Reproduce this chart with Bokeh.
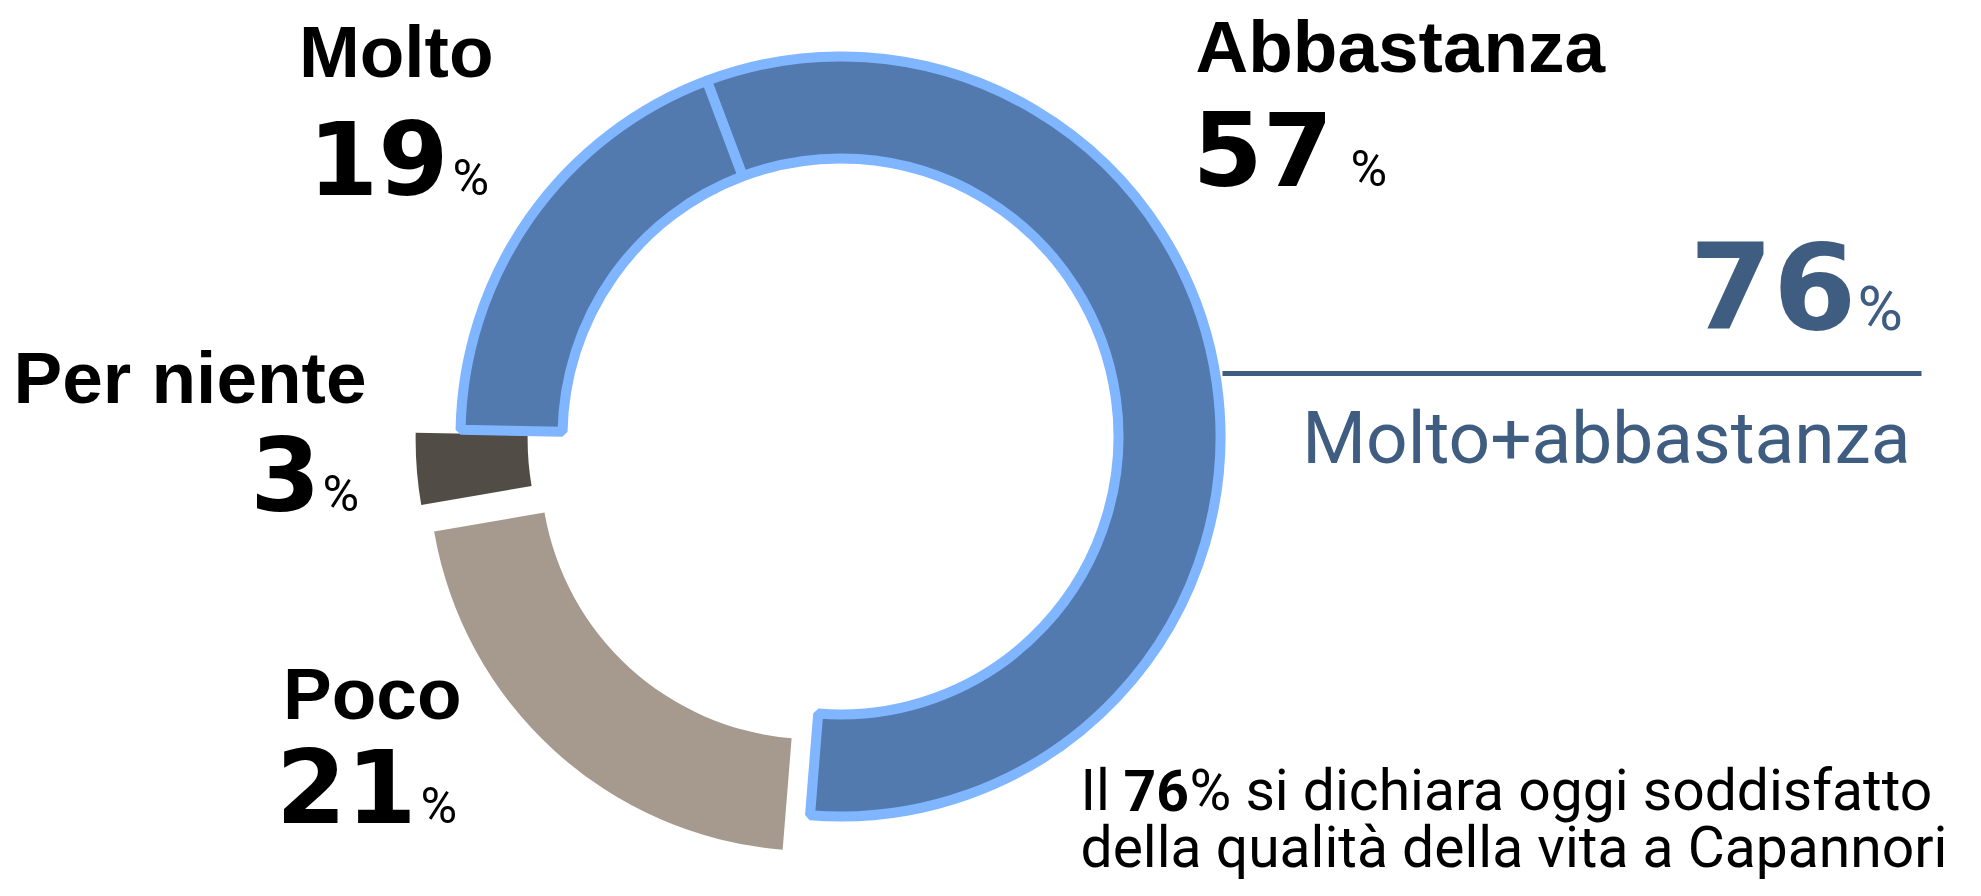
import math
from bokeh.plotting import figure
from bokeh.models import Range1d, ColumnDataSource
from bokeh.core.properties import value
from bokeh.embed import file_html
from bokeh.resources import INLINE

# ---------------- data ----------------
categories = ["Abbastanza", "Poco", "Per niente", "Molto"]   # clockwise order
values = [57, 21, 3, 19]
fill_colors = ["#527AAE", "#A69A8E", "#524C46", "#527AAE"]
exploded = [False, True, True, False]
combined_label = "Molto+abbastanza"
combined_value = values[0] + values[3]
note_lines = ["Il ", "% si dichiara oggi soddisfatto", "della qualità della vita a Capannori"]

# ---------------- layout / style ----------------
W, H = 1965, 880
PAGE_H = 896
CX, CY = 840, PAGE_H - 436
START = 110.6          # boundary Molto/Abbastanza, degrees
EXPLODE = 40
BLUE_STROKE = "#80B5FF"
ACCENT = "#3F5C81"

def Y(v):
    return PAGE_H - v

p = figure(width=W, height=H, output_backend="svg", toolbar_location=None,
           x_range=Range1d(0, W), y_range=Range1d(PAGE_H - H, PAGE_H),
           min_border=0)
p.axis.visible = False
p.grid.visible = False
p.outline_line_color = None
p.background_fill_color = "white"

total = sum(values)
cur = START
for cat, v, col, ex in zip(categories, values, fill_colors, exploded):
    span = v / total * 360.0
    end = cur
    start = cur - span
    cur = start
    mid = math.radians((start + end) / 2)
    cx, cy = CX, CY
    if ex:
        cx += EXPLODE * math.cos(mid)
        cy += EXPLODE * math.sin(mid)
    src = ColumnDataSource(dict(x=[cx], y=[cy], s=[math.radians(start)], e=[math.radians(end)]))
    if ex:
        p.annular_wedge(x="x", y="y", inner_radius=273, outer_radius=385,
                        start_angle="s", end_angle="e", source=src,
                        fill_color=col, line_color=None)
    else:
        p.annular_wedge(x="x", y="y", inner_radius=278, outer_radius=380,
                        start_angle="s", end_angle="e", source=src,
                        fill_color=col, line_color=BLUE_STROKE, line_width=10)

def txt(x, y, t, font, size, bold=False, align="left", color="black"):
    k = 0.39 if font.startswith("DejaVu") else 0.37
    p.text(x=[x], y=[Y(y - k * size)], text=[t], text_font=value(font),
           text_font_style="bold" if bold else "normal",
           text_font_size=f"{size}px", text_align=align,
           text_baseline="alphabetic", text_color=color)

val = dict(zip(categories, values))
LBL_FONT = "Liberation Sans"
NUM_FONT = "DejaVu Sans"
PCT_FONT = "Roboto"

# Molto
txt(493, 78, "Molto", LBL_FONT, 73, bold=True, align="right")
txt(448, 196, str(val["Molto"]), NUM_FONT, 101, bold=True, align="right")
txt(452, 196, "%", PCT_FONT, 50)
# Abbastanza
txt(1195, 73, "Abbastanza", LBL_FONT, 73, bold=True)
txt(1192, 187, str(val["Abbastanza"]), NUM_FONT, 101, bold=True)
txt(1350, 187, "%", PCT_FONT, 50)
# Per niente
txt(366, 404, "Per niente", LBL_FONT, 73, bold=True, align="right")
txt(320, 512, str(val["Per niente"]), NUM_FONT, 101, bold=True, align="right")
txt(322, 512, "%", PCT_FONT, 50)
# Poco
txt(461, 720, "Poco", LBL_FONT, 73, bold=True, align="right")
txt(416, 824, str(val["Poco"]), NUM_FONT, 101, bold=True, align="right")
txt(420, 824, "%", PCT_FONT, 50)

# combined
txt(1856, 331, str(combined_value), NUM_FONT, 120, bold=True, align="right", color=ACCENT)
txt(1857, 331, "%", PCT_FONT, 62, color=ACCENT)
p.segment(x0=[1222], y0=[Y(373)], x1=[1921], y1=[Y(373)], line_color=ACCENT, line_width=5)
txt(1910, 465, combined_label, "Roboto", 73, align="right", color=ACCENT)

# note
NOTE_SIZE = 57
txt(1080, 811, note_lines[0], "Roboto", NOTE_SIZE)
txt(1123, 811, str(combined_value), "Roboto", NOTE_SIZE, bold=True)
txt(1189, 811, note_lines[1], "Roboto", NOTE_SIZE)
txt(1080, 868, note_lines[2], "Roboto", NOTE_SIZE)

open("out.html", "w").write(file_html(p, INLINE))
